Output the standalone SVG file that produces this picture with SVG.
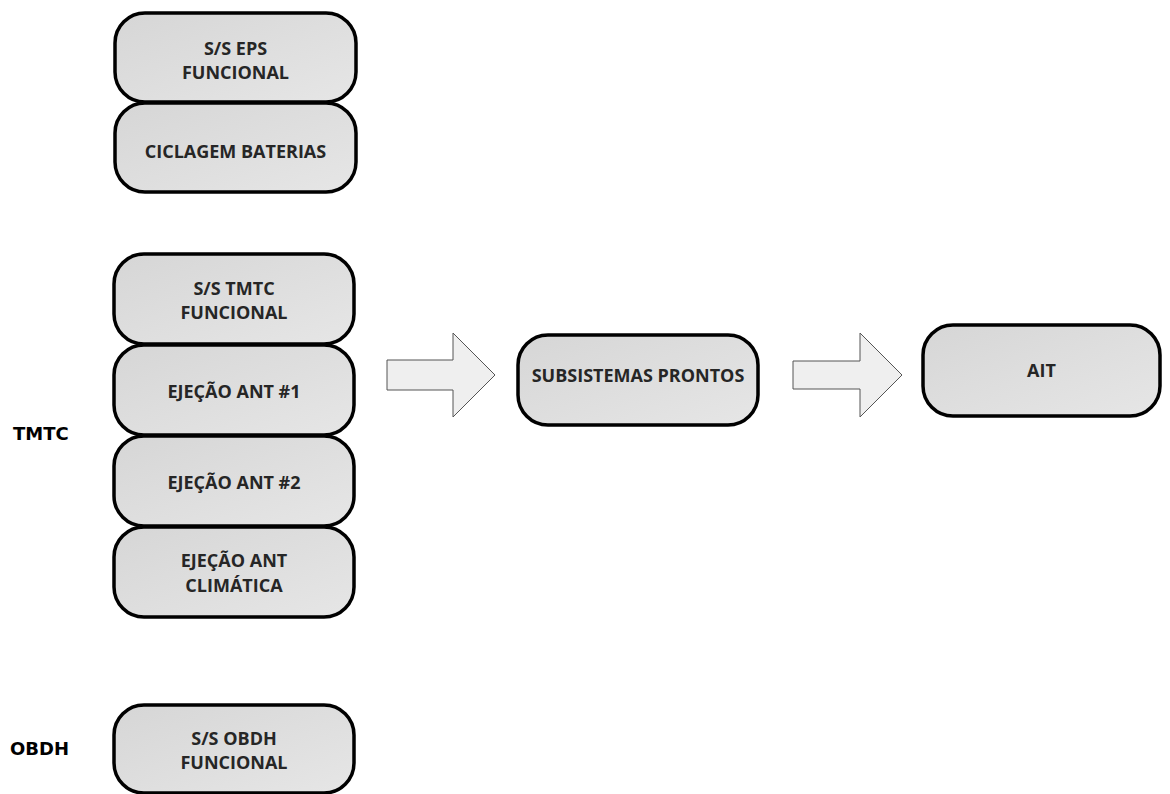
<svg xmlns="http://www.w3.org/2000/svg" width="1170" height="794" viewBox="0 0 1170 794">
<defs>
<linearGradient id="g" x1="0" y1="0" x2="1" y2="1">
<stop offset="0" stop-color="#d6d6d6"/>
<stop offset="1" stop-color="#e6e6e6"/>
</linearGradient>
<style>
.box{fill:url(#g);stroke:#000;stroke-width:3.5}
.t{font-family:"Open Sans","Liberation Sans",sans-serif;font-weight:700;font-size:18px;fill:#262626;text-anchor:middle;dominant-baseline:central}
.lab{font-family:"DejaVu Sans","Liberation Sans",sans-serif;font-weight:700;font-size:18px;fill:#000;dominant-baseline:central}
.arr{fill:#efefef;stroke:#555;stroke-width:1}
</style>
</defs>
<rect width="1170" height="794" fill="#fff"/>
<text class="lab" x="13" y="433">TMTC</text>
<text class="lab" x="10" y="748">OBDH</text>
<g id="connectors">
<polygon class="arr" points="387,360 453,360 453,333 495,375 453,417 453,390 387,390"/>
<polygon class="arr" points="793,361 860,361 860,333 902,375 860,417 860,389 793,389"/>
</g>
<g id="n_eps"><rect class="box" x="115" y="13" width="241" height="89" rx="30"/><text class="t" x="235.5" y="48">S/S EPS</text><text class="t" x="235.5" y="72">FUNCIONAL</text></g>
<g id="n_cicl"><rect class="box" x="115" y="103" width="241" height="89" rx="30"/><text class="t" x="235.5" y="151">CICLAGEM BATERIAS</text></g>
<g id="n_tmtc"><rect class="box" x="114" y="254" width="240" height="90" rx="30"/><text class="t" x="234" y="288">S/S TMTC</text><text class="t" x="234" y="312">FUNCIONAL</text></g>
<g id="n_ant1"><rect class="box" x="114" y="345" width="240" height="90" rx="30"/><text class="t" x="234" y="391">EJEÇÃO ANT #1</text></g>
<g id="n_ant2"><rect class="box" x="114" y="436" width="240" height="90" rx="30"/><text class="t" x="234" y="482">EJEÇÃO ANT #2</text></g>
<g id="n_clim"><rect class="box" x="114" y="527" width="240" height="90" rx="30"/><text class="t" x="234" y="560">EJEÇÃO ANT</text><text class="t" x="234" y="585">CLIMÁTICA</text></g>
<g id="n_obdh"><rect class="box" x="114" y="705" width="240" height="88" rx="30"/><text class="t" x="234" y="738">S/S OBDH</text><text class="t" x="234" y="762">FUNCIONAL</text></g>
<g id="n_sub"><rect class="box" x="518" y="335" width="240" height="90" rx="30"/><text class="t" x="638" y="375">SUBSISTEMAS PRONTOS</text></g>
<g id="n_ait"><rect class="box" x="923" y="325" width="237" height="91" rx="30"/><text class="t" x="1041.5" y="370">AIT</text></g>
</svg>
